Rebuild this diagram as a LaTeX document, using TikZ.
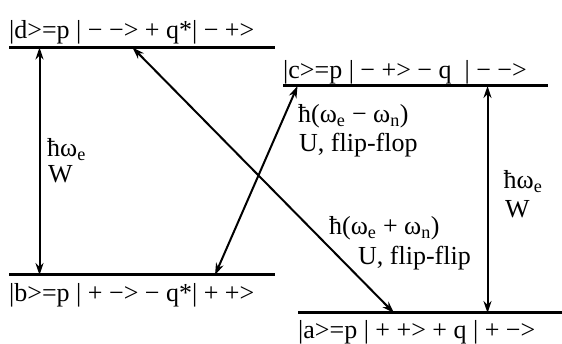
\documentclass[tikz,border=0pt]{standalone}
\usepackage{fontspec}
\setmainfont{Liberation Serif}
\usetikzlibrary{arrows.meta}
\begin{document}
\begin{tikzpicture}[x=1pt,y=-1pt,
  level/.style={line width=3pt},
  trans/.style={{Stealth[length=12pt,width=8pt]}-{Stealth[length=12pt,width=8pt]},line width=2pt},
  lbl/.style={anchor=base west,inner sep=0pt,font=\fontsize{26}{30}\selectfont}]
  \useasboundingbox (0,0) rectangle (562,344);
  % energy levels
  \draw[level] (9,47.5) -- (275,47.5);
  \draw[level] (283,86) -- (548,86);
  \draw[level] (9,275) -- (275,275);
  \draw[level] (298,313) -- (562,313);
  \node[lbl] (ld) at (9,39) {|d>=p | − −> + q*| − +>};
  \node[lbl] (lc) at (283,79) {|c>=p | − +> − q\ \ | − −>};
  \node[lbl] (lb) at (9,302) {|b>=p | + −> − q*| + +>};
  \node[lbl] (la) at (298,338.5) {|a>=p | + +> + q | + −>};
  % transition end points
  \coordinate (d1) at (39.5,47.5);
  \coordinate (d2) at (132.5,47.5);
  \coordinate (c1) at (297.5,86);
  \coordinate (c2) at (487.5,86);
  \coordinate (b1) at (39.5,275);
  \coordinate (b2) at (215,275);
  \coordinate (a1) at (394,313);
  \coordinate (a2) at (487.5,313);
  \draw[trans] (d1) -- (b1);
  \draw[trans] (c2) -- (a2);
  \draw[trans] (b2) -- (c1);
  \draw[trans] (d2) -- (a1);
  \node[lbl] (we1) at (47,157) {ħω\textsubscript{e}};
  \node[lbl] (w1) at (48,183) {W};
  \node[lbl] (we2) at (503.5,189) {ħω\textsubscript{e}};
  \node[lbl] (w2) at (505,218) {W};
  \node[lbl] (ff1) at (298,122.5) {ħ(ω\textsubscript{e} − ω\textsubscript{n})};
  \node[lbl] (ff2) at (299,151.5) {U, flip-flop};
  \node[lbl] (fp1) at (329,235) {ħ(ω\textsubscript{e} + ω\textsubscript{n})};
  \node[lbl] (fp2) at (358,265) {U, flip-flip};
\end{tikzpicture}
\end{document}
